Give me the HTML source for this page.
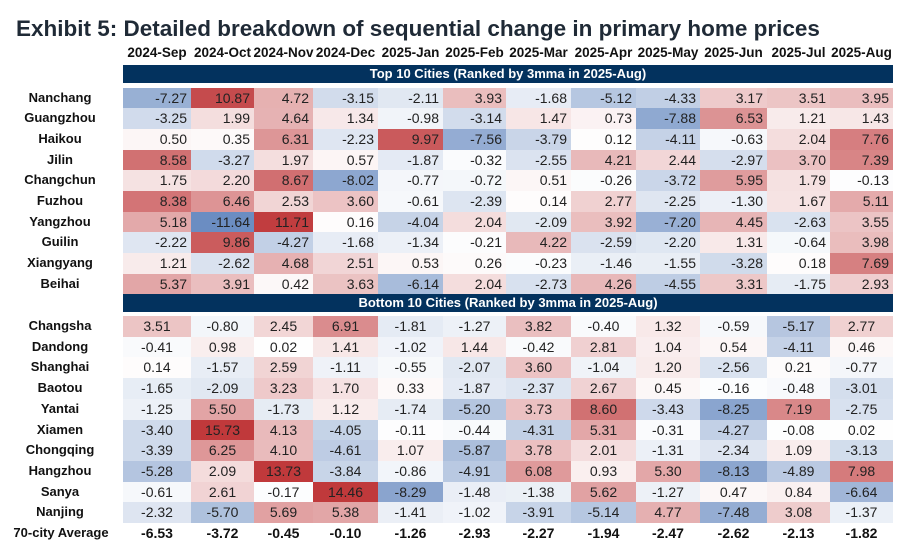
<!DOCTYPE html>
<html><head><meta charset="utf-8">
<style>
body{margin:0;background:#fff;width:914px;height:556px;overflow:hidden;font-family:"Liberation Sans",Arial,sans-serif;}
#title{position:absolute;left:16px;top:16px;font-size:22.5px;font-weight:bold;color:#1f2a36;white-space:nowrap;}
.abs{position:absolute;white-space:nowrap;}
</style></head><body>
<div id="title">Exhibit 5: Detailed breakdown of sequential change in primary home prices</div>
<div id="root"></div>
<script>
const months=["2024-Sep","2024-Oct","2024-Nov","2024-Dec","2025-Jan","2025-Feb","2025-Mar","2025-Apr","2025-May","2025-Jun","2025-Jul","2025-Aug"];
const topCities=["Nanchang","Guangzhou","Haikou","Jilin","Changchun","Fuzhou","Yangzhou","Guilin","Xiangyang","Beihai"];
const topValues=[
[-7.27,10.87,4.72,-3.15,-2.11,3.93,-1.68,-5.12,-4.33,3.17,3.51,3.95],
[-3.25,1.99,4.64,1.34,-0.98,-3.14,1.47,0.73,-7.88,6.53,1.21,1.43],
[0.50,0.35,6.31,-2.23,9.97,-7.56,-3.79,0.12,-4.11,-0.63,2.04,7.76],
[8.58,-3.27,1.97,0.57,-1.87,-0.32,-2.55,4.21,2.44,-2.97,3.70,7.39],
[1.75,2.20,8.67,-8.02,-0.77,-0.72,0.51,-0.26,-3.72,5.95,1.79,-0.13],
[8.38,6.46,2.53,3.60,-0.61,-2.39,0.14,2.77,-2.25,-1.30,1.67,5.11],
[5.18,-11.64,11.71,0.16,-4.04,2.04,-2.09,3.92,-7.20,4.45,-2.63,3.55],
[-2.22,9.86,-4.27,-1.68,-1.34,-0.21,4.22,-2.59,-2.20,1.31,-0.64,3.98],
[1.21,-2.62,4.68,2.51,0.53,0.26,-0.23,-1.46,-1.55,-3.28,0.18,7.69],
[5.37,3.91,0.42,3.63,-6.14,2.04,-2.73,4.26,-4.55,3.31,-1.75,2.93]];
const botCities=["Changsha","Dandong","Shanghai","Baotou","Yantai","Xiamen","Chongqing","Hangzhou","Sanya","Nanjing"];
const botValues=[
[3.51,-0.80,2.45,6.91,-1.81,-1.27,3.82,-0.40,1.32,-0.59,-5.17,2.77],
[-0.41,0.98,0.02,1.41,-1.02,1.44,-0.42,2.81,1.04,0.54,-4.11,0.46],
[0.14,-1.57,2.59,-1.11,-0.55,-2.07,3.60,-1.04,1.20,-2.56,0.21,-0.77],
[-1.65,-2.09,3.23,1.70,0.33,-1.87,-2.37,2.67,0.45,-0.16,-0.48,-3.01],
[-1.25,5.50,-1.73,1.12,-1.74,-5.20,3.73,8.60,-3.43,-8.25,7.19,-2.75],
[-3.40,15.73,4.13,-4.05,-0.11,-0.44,-4.31,5.31,-0.31,-4.27,-0.08,0.02],
[-3.39,6.25,4.10,-4.61,1.07,-5.87,3.78,2.01,-1.31,-2.34,1.09,-3.13],
[-5.28,2.09,13.73,-3.84,-0.86,-4.91,6.08,0.93,5.30,-8.13,-4.89,7.98],
[-0.61,2.61,-0.17,14.46,-8.29,-1.48,-1.38,5.62,-1.27,0.47,0.84,-6.64],
[-2.32,-5.70,5.69,5.38,-1.41,-1.02,-3.91,-5.14,4.77,-7.48,3.08,-1.37]];
const avgValues=[-6.53,-3.72,-0.45,-0.10,-1.26,-2.93,-2.27,-1.94,-2.47,-2.62,-2.13,-1.82];

const edges=[123,191,254,313,378,443,506,571,636,700,767,830,893];
const root=document.getElementById('root');
function color(v){
  let r,g,b,t;
  if(v>=0){t=Math.min(v/12,1);r=255+(192-255)*t;g=255+(57-255)*t;b=255+(59-255)*t;}
  else{t=Math.min(-v/10.5,1);r=255+(107-255)*t;g=255+(141-255)*t;b=255+(194-255)*t;}
  return `rgb(${r|0},${g|0},${b|0})`;
}
function div(css,txt){const d=document.createElement('div');d.className='abs';d.style.cssText=css;if(txt!==undefined)d.textContent=txt;root.appendChild(d);return d;}
months.forEach((m,i)=>{
  const d=div(`left:${edges[i]-8}px;width:${edges[i+1]-edges[i]+16}px;top:45px;text-align:center;font-size:13.5px;font-weight:bold;color:#111;`,m);
  
  
});
function band(y,text){
  const d=div(`left:123px;width:770px;top:${y}px;height:18px;background:#03325e;color:#fff;font-size:13px;font-weight:bold;text-align:center;line-height:18px;`,text);
  
  
}
const RH=20.7;
function section(cities,vals,y0,align){
  cities.forEach((c,r)=>{
    const y=y0+r*RH;
    const l=div(`left:0;width:120px;top:${y}px;height:${RH}px;line-height:${RH}px;text-align:center;font-size:13px;font-weight:bold;color:#111;`,c);
    
    
    vals[r].forEach((v,i)=>{
      const w=edges[i+1]-edges[i];
      const pad=align==='right'?'padding-right:4px;box-sizing:border-box;':'';
      const d=div(`left:${edges[i]}px;width:${w}px;top:${y}px;height:${RH+0.5}px;line-height:${RH}px;background:${color(v)};text-align:${align};font-size:14px;color:#222;${pad}`,v.toFixed(2));
      
      
    });
  });
}
band(65,"Top 10 Cities (Ranked by 3mma in 2025-Aug)");
section(topCities,topValues,87.5,'right');
band(294,"Bottom 10 Cities (Ranked by 3mma in 2025-Aug)");
section(botCities,botValues,316,'center');
const ya=316+10*RH;
const al=div(`left:0;width:122px;top:${ya}px;height:${RH}px;line-height:${RH}px;text-align:center;font-size:13px;font-weight:bold;color:#111;`,"70-city Average");


avgValues.forEach((v,i)=>{
  const d=div(`left:${edges[i]}px;width:${edges[i+1]-edges[i]}px;top:${ya}px;height:${RH}px;line-height:${RH}px;text-align:center;font-size:14px;font-weight:bold;color:#111;`,v.toFixed(2));
  
  
});
</script>
</body></html>
